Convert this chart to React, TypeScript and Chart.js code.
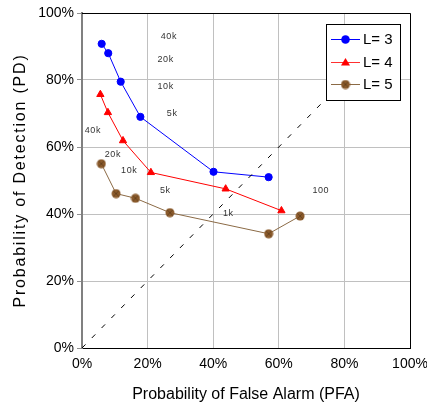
import React, { useEffect, useRef } from "react";
import { Chart, registerables } from "chart.js";

Chart.register(...registerables);

const FONT = '"Liberation Sans", Arial, sans-serif';

const seriesNames = ["L= 3", "L= 4", "L= 5"];
const pfaL3 = [6.0, 8.0, 11.8, 17.8, 40.1, 56.9];
const pdL3 = [90.8, 88.0, 79.5, 69.0, 52.6, 51.0];
const pfaL4 = [5.6, 7.9, 12.5, 21.0, 43.8, 60.8];
const pdL4 = [75.7, 70.3, 61.9, 52.4, 47.5, 41.0];
const pfaL5 = [5.9, 10.4, 16.3, 26.8, 56.9, 66.5];
const pdL5 = [55.0, 46.1, 44.7, 40.4, 34.1, 39.4];
const diagX = [0, 74];
const diagY = [0, 74];

const annoText = ["40k", "20k", "10k", "5k", "40k", "20k", "10k", "5k", "1k", "100"];
const annoX = [26.5, 25.5, 25.5, 27.5, 3.3, 9.4, 14.4, 25.4, 44.6, 72.8];
const annoY = [93, 86, 78, 70, 64.9, 57.9, 52.9, 47, 40.2, 47];

const xTitle = "Probability of False Alarm (PFA)";
const yTitle = "Probability of Detection (PD)";
const tickValues = [0, 20, 40, 60, 80, 100];

const zip = (xs: number[], ys: number[]) => xs.map((x, i) => ({ x, y: ys[i] }));

function makeBrownMarker(): HTMLCanvasElement {
  const c = document.createElement("canvas");
  c.width = 10;
  c.height = 10;
  const g = c.getContext("2d")!;
  g.beginPath();
  g.arc(5, 5, 4.5, 0, Math.PI * 2);
  g.fillStyle = "#8a5a2b";
  g.fill();
  g.strokeStyle = "#5e3c1c";
  g.lineWidth = 0.8;
  g.beginPath();
  g.moveTo(2, 2);
  g.lineTo(8, 8);
  g.moveTo(8, 2);
  g.lineTo(2, 8);
  g.stroke();
  return c;
}

export default function App() {
  const ref = useRef<HTMLCanvasElement | null>(null);

  useEffect(() => {
    if (!ref.current) return;
    const brownMarker = makeBrownMarker();

    const customPlugin = {
      id: "custom",
      beforeDatasetsDraw(chart: any) {
        const { ctx, chartArea: a } = chart;
        ctx.save();
        ctx.strokeStyle = "#000";
        ctx.lineWidth = 1;
        ctx.beginPath();
        ctx.moveTo(a.left, a.top + 0.5);
        ctx.lineTo(a.right + 0.5, a.top + 0.5);
        ctx.lineTo(a.right + 0.5, a.bottom);
        ctx.stroke();
        ctx.restore();
      },
      afterDraw(chart: any) {
        const { ctx, chartArea: a, scales } = chart;
        const xs = scales.x;
        const ys = scales.y;
        ctx.save();
        // annotations
        ctx.fillStyle = "#333";
        ctx.font = `9px ${FONT}`;
        (ctx as any).letterSpacing = "0.6px";
        ctx.textAlign = "center";
        ctx.textBaseline = "middle";
        annoText.forEach((t, i) => {
          ctx.fillText(t, xs.getPixelForValue(annoX[i]), ys.getPixelForValue(annoY[i]));
        });
        (ctx as any).letterSpacing = "0px";

        // legend
        const bx = a.right - 84;
        const by = a.top + 11;
        const bw = 74;
        const bh = 76;
        ctx.fillStyle = "#fff";
        ctx.fillRect(bx, by, bw, bh);
        ctx.strokeStyle = "#000";
        ctx.lineWidth = 1;
        ctx.strokeRect(bx + 0.5, by + 0.5, bw, bh);
        const rows = [15, 38, 60];
        const colors = ["#0000ff", "#ff3030", "#8b6a45"];
        ctx.font = `15px ${FONT}`;
        ctx.textAlign = "left";
        ctx.textBaseline = "middle";
        rows.forEach((ry, i) => {
          const y = by + ry;
          ctx.strokeStyle = colors[i];
          ctx.lineWidth = 1;
          ctx.beginPath();
          ctx.moveTo(bx + 5, y + 0.5);
          ctx.lineTo(bx + 34, y + 0.5);
          ctx.stroke();
          const cx = bx + 19.5;
          if (i === 0) {
            ctx.fillStyle = "#0000ff";
            ctx.beginPath();
            ctx.arc(cx, y + 0.5, 4.3, 0, Math.PI * 2);
            ctx.fill();
          } else if (i === 1) {
            ctx.fillStyle = "#ff0000";
            ctx.beginPath();
            ctx.moveTo(cx, y - 4);
            ctx.lineTo(cx + 4.5, y + 3.5);
            ctx.lineTo(cx - 4.5, y + 3.5);
            ctx.closePath();
            ctx.fill();
          } else {
            ctx.drawImage(brownMarker, cx - 5, y - 4.5);
          }
          ctx.fillStyle = "#000";
          ctx.fillText(seriesNames[i], bx + 37, y + 1);
        });

        // axis titles
        ctx.fillStyle = "#000";
        ctx.font = `16px ${FONT}`;
        ctx.textAlign = "center";
        ctx.textBaseline = "middle";
        ctx.fillText(xTitle, (a.left + a.right) / 2, 395);
        ctx.translate(21, (a.top + a.bottom) / 2);
        ctx.rotate(-Math.PI / 2);
        (ctx as any).letterSpacing = "1.8px";
        ctx.fillText(yTitle, 0, 0);
        ctx.restore();
      },
    };

    const chart = new Chart(ref.current, {
      type: "scatter",
      data: {
        datasets: [
          {
            label: "diag",
            data: zip(diagX, diagY),
            showLine: true,
            borderColor: "#000",
            borderWidth: 1,
            borderDash: [5, 9],
            pointRadius: 0,
          },
          {
            label: seriesNames[0],
            data: zip(pfaL3, pdL3),
            showLine: true,
            borderColor: "#0000ff",
            borderWidth: 1,
            backgroundColor: "#0000ff",
            pointBorderColor: "#0000ff",
            pointStyle: "circle",
            pointRadius: 3.6,
            pointBorderWidth: 1,
          },
          {
            label: seriesNames[1],
            data: zip(pfaL4, pdL4),
            showLine: true,
            borderColor: "#ff0000",
            borderWidth: 1,
            backgroundColor: "#ff0000",
            pointBorderColor: "#ff0000",
            pointStyle: "triangle",
            pointRadius: 4.2,
            pointBorderWidth: 1,
          },
          {
            label: seriesNames[2],
            data: zip(pfaL5, pdL5),
            showLine: true,
            borderColor: "#8b6a45",
            borderWidth: 1,
            backgroundColor: "#8a5a2b",
            pointStyle: brownMarker as any,
            pointRadius: 5,
          },
        ],
      },
      options: {
        responsive: false,
        animation: false,
        layout: { padding: { top: 13, right: 17, left: 0, bottom: 0 } },
        plugins: {
          legend: { display: false },
          tooltip: { enabled: false },
        },
        scales: {
          x: {
            type: "linear",
            min: 0,
            max: 100,
            afterBuildTicks: (s: any) => {
              s.ticks = tickValues.map((v) => ({ value: v }));
            },
            afterFit: (s: any) => {
              s.height = 59;
              s.paddingLeft = 0;
              s.paddingRight = 0;
            },
            ticks: {
              callback: (v: any) => `${v}%`,
              color: "#000",
              font: { family: FONT, size: 14 },
              padding: 3,
              maxRotation: 0,
            },
            grid: {
              color: "#c0c0c0",
              lineWidth: 1,
              tickLength: 5,
              tickColor: "rgba(0,0,0,0)",
            },
            border: { color: "#000", width: 1 },
          },
          y: {
            type: "linear",
            min: 0,
            max: 100,
            afterBuildTicks: (s: any) => {
              s.ticks = tickValues.map((v) => ({ value: v }));
            },
            afterFit: (s: any) => {
              s.width = 82;
              s.paddingTop = 0;
              s.paddingBottom = 0;
            },
            ticks: {
              callback: (v: any) => `${v}%`,
              color: "#000",
              font: { family: FONT, size: 14 },
              padding: 3,
            },
            grid: {
              color: "#c0c0c0",
              lineWidth: 1,
              tickLength: 5,
              tickColor: "#909090",
            },
            border: { color: "#808080", width: 2 },
          },
        },
      },
      plugins: [customPlugin],
    } as any);

    return () => chart.destroy();
  }, []);

  return (
    <div style={{ position: "fixed", left: 0, top: 0, width: 427, height: 407, background: "#fff" }}>
      <canvas ref={ref} width={427} height={407} />
    </div>
  );
}
